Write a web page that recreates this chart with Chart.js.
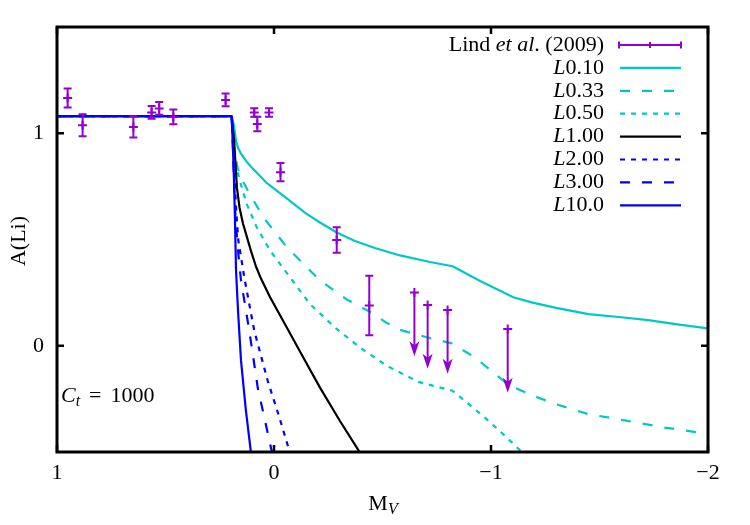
<!DOCTYPE html>
<html><head><meta charset="utf-8">
<script src="https://cdn.jsdelivr.net/npm/chart.js@4.4.1/dist/chart.umd.min.js"></script>
<style>html,body{margin:0;padding:0;background:#fff}#wrap{width:750px;height:525px}</style>
</head><body><div id="wrap"><canvas id="c" width="750" height="525"></canvas></div>
<script>
// ---- tick definitions ----
const xTickValues = [1, 0, -1, -2];
const xTickLabels = ['1', '0', '\u22121', '\u22122'];
const yTickValues = [0, 1];
const yTickLabels = ['0', '1'];

// ---- Lind et al. (2009) detections ----
const lindX   = [0.951, 0.882, 0.648, 0.564, 0.529, 0.464, 0.223, 0.091, 0.077, 0.023, -0.03, -0.289, -0.439];
const lindY   = [1.166, 1.038, 1.030, 1.098, 1.117, 1.077, 1.157, 1.098, 1.044, 1.098, 0.817, 0.498, 0.189];
const lindErr = [0.045, 0.052, 0.050, 0.030, 0.030, 0.035, 0.030, 0.020, 0.034, 0.020, 0.043, 0.060, 0.140];

// ---- Lind et al. (2009) upper limits ----
const limX = [-0.647, -0.708, -0.800, -1.077];
const limY = [0.251, 0.192, 0.168, 0.079];

// ---- model curves ----
const l010X = [1, 0.195, 0.184, 0.175, 0.164, 0.152, 0.129, 0.106, 0.074, 0.037, -0.0585, -0.147, -0.212, -0.289, -0.373, -0.465, -0.581, -0.719, -0.823, -0.95, -1.103, -1.187, -1.3, -1.449, -1.6, -1.725, -1.85, -2];
const l010Y = [1.08, 1.08, 1.033, 0.962, 0.927, 0.904, 0.87, 0.842, 0.809, 0.769, 0.693, 0.623, 0.58, 0.533, 0.493, 0.46, 0.425, 0.394, 0.374, 0.305, 0.228, 0.204, 0.178, 0.149, 0.134, 0.121, 0.102, 0.082];

const l033X = [1, 0.195, 0.188, 0.18, 0.168, 0.157, 0.118, 0.048, -0.059, -0.166, -0.212, -0.335, -0.442, -0.519, -0.58, -0.704, -0.819, -0.926, -1.077, -1.141, -1.217, -1.3, -1.449, -1.61, -1.8, -1.963, -2];
const l033Y = [1.08, 1.08, 0.98, 0.9, 0.84, 0.8, 0.725, 0.603, 0.464, 0.354, 0.307, 0.218, 0.16, 0.108, 0.075, 0.04, 0.011, -0.055, -0.181, -0.212, -0.244, -0.275, -0.322, -0.35, -0.385, -0.409, -0.415];

const l050X = [1, 0.195, 0.188, 0.178, 0.168, 0.157, 0.126, 0.08, 0.018, -0.074, -0.166, -0.289, -0.396, -0.519, -0.665, -0.823, -0.972, -1.06, -1.147, -1.16];
const l050Y = [1.08, 1.08, 0.98, 0.88, 0.82, 0.775, 0.668, 0.558, 0.448, 0.322, 0.196, 0.079, -0.008, -0.094, -0.17, -0.212, -0.338, -0.42, -0.505, -0.52];

const l100X = [1, 0.195, 0.184, 0.177, 0.171, 0.159, 0.143, 0.124, 0.104, 0.083, 0.06, 0.018, -0.059, -0.135, -0.212, -0.304, -0.406];
const l100Y = [1.08, 1.08, 0.967, 0.849, 0.745, 0.651, 0.575, 0.509, 0.439, 0.373, 0.316, 0.228, 0.086, -0.055, -0.197, -0.354, -0.519];

const l200X = [1, 0.195, 0.188, 0.182, 0.175, 0.165, 0.137, 0.091, 0.029, -0.025, -0.071, -0.078];
const l200Y = [1.08, 1.08, 0.95, 0.8, 0.65, 0.5, 0.322, 0.071, -0.165, -0.338, -0.495, -0.52];

const l300X = [1, 0.195, 0.19, 0.185, 0.178, 0.168, 0.152, 0.114, 0.075, 0.014, 0.005];
const l300Y = [1.08, 1.08, 0.95, 0.8, 0.62, 0.47, 0.307, 0.071, -0.197, -0.48, -0.52];

const l1000X = [1, 0.195, 0.19, 0.185, 0.18, 0.175, 0.165, 0.152, 0.13, 0.106, 0.103];
const l1000Y = [1.08, 1.08, 0.95, 0.8, 0.6, 0.354, 0.15, -0.07, -0.3, -0.505, -0.52];

const seriesNames = ['L0.10', 'L0.33', 'L0.50', 'L1.00', 'L2.00', 'L3.00', 'L10.0'];
const lindName = 'Lind et al. (2009)';

// ---- styles ----
const PURPLE = '#9400d3', CYAN = '#00c8c8', BLUE = '#0000ff', BLACK = '#000000';
const FONT = '"Liberation Serif", "Times New Roman", serif';
const FS = 22;
const DASH = [10, 12], DOT = [5, 6];
const modelStyles = [
  {color: CYAN, dash: []},
  {color: CYAN, dash: DASH},
  {color: CYAN, dash: DOT},
  {color: BLACK, dash: []},
  {color: BLUE, dash: DOT},
  {color: BLUE, dash: DASH},
  {color: BLUE, dash: []}
];
const modelData = [[l010X, l010Y], [l033X, l033Y], [l050X, l050Y], [l100X, l100Y], [l200X, l200Y], [l300X, l300Y], [l1000X, l1000Y]];
const ARROW_LEN = 0.3;

function pts(xs, ys) { return xs.map((x, i) => ({x: x, y: ys[i]})); }

const datasets = [
  {label: lindName, data: pts(lindX, lindY), showLine: false, pointStyle: 'cross', pointRadius: 4.5,
   borderColor: PURPLE, backgroundColor: PURPLE, pointBorderWidth: 2, order: 0},
  {label: lindName + ' limits', data: pts(limX, limY), showLine: false, pointStyle: 'cross', pointRadius: 4.5,
   borderColor: PURPLE, backgroundColor: PURPLE, pointBorderWidth: 2, order: 0}
];
seriesNames.forEach((n, i) => {
  datasets.push({label: n, data: pts(modelData[i][0], modelData[i][1]), showLine: true, pointRadius: 0,
    borderColor: modelStyles[i].color, borderDash: modelStyles[i].dash, borderWidth: 2.2,
    tension: 0, borderJoinStyle: 'round', fill: false, order: seriesNames.length - i});
});

function fontFor(s) {
  if (s === 'i') return 'italic ' + FS + 'px ' + FONT;
  if (s === 'si') return 'italic ' + Math.round(FS * 0.72) + 'px ' + FONT;
  return FS + 'px ' + FONT;
}
function richWidth(ctx, parts) {
  let w = 0;
  parts.forEach(p => { if (p[1] === 'gap') { w += p[0]; return; } ctx.font = fontFor(p[1]); w += ctx.measureText(p[0]).width; });
  return w;
}
function rich(ctx, parts, x, y, align) {
  const w = richWidth(ctx, parts);
  let cx = align === 'right' ? x - w : (align === 'center' ? x - w / 2 : x);
  ctx.textBaseline = 'middle'; ctx.textAlign = 'left'; ctx.fillStyle = '#000';
  parts.forEach(p => {
    if (p[1] === 'gap') { cx += p[0]; return; }
    ctx.font = fontFor(p[1]);
    ctx.fillText(p[0], cx, y + (p[1] === 'si' ? 6 : 0));
    cx += ctx.measureText(p[0]).width;
  });
}

const deco = {
  id: 'deco',
  afterDatasetsDraw(chart) {
    const ctx = chart.ctx, a = chart.chartArea, xs = chart.scales.x, ys = chart.scales.y;
    ctx.save();
    ctx.strokeStyle = PURPLE; ctx.fillStyle = PURPLE; ctx.lineWidth = 2; ctx.setLineDash([]);
    lindX.forEach((xv, i) => {
      const px = xs.getPixelForValue(xv);
      const p1 = ys.getPixelForValue(lindY[i] - lindErr[i]);
      const p2 = ys.getPixelForValue(lindY[i] + lindErr[i]);
      ctx.beginPath();
      ctx.moveTo(px, p1); ctx.lineTo(px, p2);
      ctx.moveTo(px - 4, p1); ctx.lineTo(px + 4, p1);
      ctx.moveTo(px - 4, p2); ctx.lineTo(px + 4, p2);
      ctx.stroke();
    });
    limX.forEach((xv, i) => {
      const px = xs.getPixelForValue(xv);
      const py = ys.getPixelForValue(limY[i]);
      const pt = ys.getPixelForValue(limY[i] - ARROW_LEN);
      ctx.beginPath(); ctx.moveTo(px, py); ctx.lineTo(px, pt - 8); ctx.stroke();
      ctx.beginPath();
      ctx.moveTo(px, pt); ctx.lineTo(px - 5, pt - 15); ctx.lineTo(px, pt - 11); ctx.lineTo(px + 5, pt - 15);
      ctx.closePath(); ctx.fill();
    });
    ctx.strokeStyle = '#000'; ctx.lineWidth = 3;
    ctx.strokeRect(a.left, a.top, a.right - a.left, a.bottom - a.top);
    ctx.lineWidth = 2.5;
    ctx.beginPath();
    xTickValues.forEach(v => {
      const px = xs.getPixelForValue(v);
      ctx.moveTo(px, a.bottom); ctx.lineTo(px, a.bottom - 7);
      ctx.moveTo(px, a.top); ctx.lineTo(px, a.top + 7);
    });
    yTickValues.forEach(v => {
      const py = ys.getPixelForValue(v);
      ctx.moveTo(a.left, py); ctx.lineTo(a.left + 7, py);
      ctx.moveTo(a.right, py); ctx.lineTo(a.right - 7, py);
    });
    ctx.stroke();
    ctx.restore();
  },
  afterDraw(chart) {
    const ctx = chart.ctx;
    ctx.save();
    rich(ctx, [['M', 'n'], ['V', 'si']], 383, 504, 'center');
    ctx.save(); ctx.translate(19, 241); ctx.rotate(-Math.PI / 2);
    rich(ctx, [['A(Li)', 'n']], 0, 0, 'center');
    ctx.restore();
    rich(ctx, [['C', 'i'], ['t', 'si'], [9, 'gap'], ['=', 'n'], [9, 'gap'], ['1000', 'n']], 61, 396, 'left');
    const tx = 604, x0 = 619, x1 = 681, y0 = 45, dy = 22.9;
    rich(ctx, [['Lind ', 'n'], ['et al', 'i'], ['. (2009)', 'n']], tx, y0, 'right');
    ctx.strokeStyle = PURPLE; ctx.lineWidth = 2; ctx.setLineDash([]);
    ctx.beginPath();
    ctx.moveTo(x0, y0); ctx.lineTo(x1, y0);
    ctx.moveTo(x0, y0 - 3.5); ctx.lineTo(x0, y0 + 3.5);
    ctx.moveTo(x1, y0 - 3.5); ctx.lineTo(x1, y0 + 3.5);
    ctx.moveTo((x0 + x1) / 2, y0 - 3); ctx.lineTo((x0 + x1) / 2, y0 + 3);
    ctx.stroke();
    seriesNames.forEach((n, i) => {
      const y = y0 + dy * (i + 1);
      rich(ctx, [[n.charAt(0), 'i'], [n.slice(1), 'n']], tx, y, 'right');
      ctx.strokeStyle = modelStyles[i].color; ctx.lineWidth = 2.2; ctx.setLineDash(modelStyles[i].dash);
      ctx.beginPath(); ctx.moveTo(x0 + 1, y); ctx.lineTo(x1, y); ctx.stroke();
    });
    ctx.restore();
  }
};

new Chart(document.getElementById('c'), {
  type: 'scatter',
  data: {datasets: datasets},
  options: {
    responsive: false, animation: false, devicePixelRatio: 1,
    layout: {padding: {top: 27, right: 42, left: 0, bottom: 0}},
    plugins: {legend: {display: false}, tooltip: {enabled: false}},
    scales: {
      x: {type: 'linear', min: -2, max: 1, reverse: true,
        afterBuildTicks: s => { s.ticks = xTickValues.map(v => ({value: v})); },
        afterFit: s => { s.height = 73; },
        grid: {display: false, drawTicks: false, tickLength: 0}, border: {display: false},
        ticks: {padding: 8, color: '#000', font: {family: FONT, size: FS}, maxRotation: 0,
          callback: v => xTickLabels[xTickValues.indexOf(v)]}
      },
      y: {type: 'linear', min: -0.5, max: 1.5,
        afterBuildTicks: s => { s.ticks = yTickValues.map(v => ({value: v})); },
        afterFit: s => { s.width = 57; },
        grid: {display: false, drawTicks: false, tickLength: 0}, border: {display: false},
        ticks: {padding: 13, color: '#000', font: {family: FONT, size: FS},
          callback: v => yTickLabels[yTickValues.indexOf(v)]}
      }
    }
  },
  plugins: [deco]
});
</script></body></html>
